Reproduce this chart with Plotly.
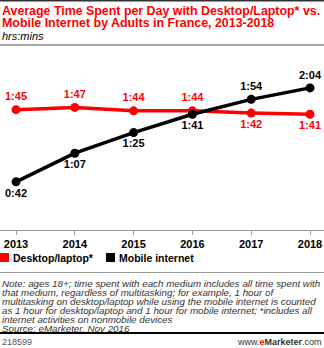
import plotly.graph_objects as go

years = [2013, 2014, 2015, 2016, 2017, 2018]
desktop_min = [105, 107, 104, 104, 102, 101]
mobile_min = [42, 67, 85, 101, 114, 124]
desktop_labels = ["1:45", "1:47", "1:44", "1:44", "1:42", "1:41"]
mobile_labels = ["0:42", "1:07", "1:25", "1:41", "1:54", "2:04"]
desktop_pos = ["top center"] * 4 + ["bottom center"] * 2
mobile_pos = ["bottom center"] * 4 + ["top center"] * 2

title_lines = ["Average Time Spent per Day with Desktop/Laptop* vs.",
               "Mobile Internet by Adults in France, 2013-2018"]
note_lines = ["Note: ages 18+; time spent with each medium includes all time spent with",
              "that medium, regardless of multitasking; for example, 1 hour of",
              "multitasking on desktop/laptop while using the mobile internet is counted",
              "as 1 hour for desktop/laptop and 1 hour for mobile internet; *includes all",
              "internet activities on nonmobile devices",
              "Source: eMarketer, Nov 2016"]

W, H = 324, 348
RED = "#ff0000"
FONT = "Liberation Sans, Arial"

def py(px):
    return 1 - px / H

fig = go.Figure()
fig.add_trace(go.Scatter(
    x=years, y=desktop_min, mode="lines+markers+text",
    line=dict(color=RED, width=3.5), marker=dict(color=RED, size=9),
    text=desktop_labels, textposition=desktop_pos,
    textfont=dict(color=RED, size=11, family=FONT, weight="bold"),
    cliponaxis=False, showlegend=False, hoverinfo="skip"))
fig.add_trace(go.Scatter(
    x=years, y=mobile_min, mode="lines+markers+text",
    line=dict(color="#000000", width=3.5), marker=dict(color="#000000", size=9),
    text=mobile_labels, textposition=mobile_pos,
    textfont=dict(color="#000000", size=11, family=FONT, weight="bold"),
    cliponaxis=False, showlegend=False, hoverinfo="skip"))

x0 = 2013 - 16 / 58.8
x1 = 2018 + 14 / 58.8
fig.update_xaxes(range=[x0, x1], domain=[0, 1], tickvals=years,
                 ticktext=[str(y) for y in years], showgrid=False, zeroline=False,
                 showline=True, linecolor="#999999", linewidth=1,
                 ticks="outside", ticklen=4, tickcolor="#999999",
                 tickfont=dict(family=FONT, size=11, color="#000", weight="bold"))
fig.update_yaxes(range=[0, 175 / 1.146], domain=[py(230), py(55)], visible=False)

ann = []
for i, t in enumerate(title_lines):
    ann.append(dict(x=0, y=py(11 + 12.5 * i), xref="paper", yref="paper",
                    xanchor="left", yanchor="middle", text="<b>" + t + "</b>",
                    showarrow=False, font=dict(family=FONT, size=12.4, color=RED)))
ann.append(dict(x=0, y=py(36), xref="paper", yref="paper", xanchor="left", yanchor="middle",
                text="<i>hrs:mins</i>", showarrow=False,
                font=dict(family=FONT, size=11, color="#000")))
ann.append(dict(x=11 / W, y=py(258), xref="paper", yref="paper", xanchor="left", yanchor="middle",
                text="<b>Desktop/laptop*</b>", showarrow=False,
                font=dict(family=FONT, size=10.5, color="#000")))
ann.append(dict(x=117 / W, y=py(258), xref="paper", yref="paper", xanchor="left", yanchor="middle",
                text="<b>Mobile internet</b>", showarrow=False,
                font=dict(family=FONT, size=10.5, color="#000")))
for i, t in enumerate(note_lines):
    ann.append(dict(x=0, y=py(283 + 9.1 * i), xref="paper", yref="paper",
                    xanchor="left", yanchor="middle", text="<i>" + t + "</i>",
                    showarrow=False, font=dict(family=FONT, size=9.8, color="#333")))
ann.append(dict(x=0, y=py(342), xref="paper", yref="paper", xanchor="left", yanchor="middle",
                text="218599", showarrow=False,
                font=dict(family=FONT, size=9, color="#555")))
ann.append(dict(x=1, y=py(342), xref="paper", yref="paper", xanchor="right", yanchor="middle",
                text="www.<b><span style='color:#ff0000'>e</span>Marketer</b>.com", showarrow=False,
                font=dict(family=FONT, size=9, color="#333")))

shapes = [
    dict(type="line", xref="paper", yref="paper", x0=0, x1=1, y0=py(0.5), y1=py(0.5),
         line=dict(color="#333", width=2)),
    dict(type="line", xref="paper", yref="paper", x0=0, x1=1, y0=py(45), y1=py(45),
         line=dict(color="#888", width=1.5)),
    dict(type="rect", xref="paper", yref="paper", x0=0, x1=9 / W, y0=py(262), y1=py(253),
         fillcolor=RED, line=dict(width=0)),
    dict(type="rect", xref="paper", yref="paper", x0=106 / W, x1=115 / W, y0=py(262), y1=py(253),
         fillcolor="#000", line=dict(width=0)),
    dict(type="line", xref="paper", yref="paper", x0=0, x1=1, y0=py(272.5), y1=py(272.5),
         line=dict(color="#999", width=1)),
    dict(type="line", xref="paper", yref="paper", x0=0, x1=1, y0=py(333), y1=py(333),
         line=dict(color="#000", width=2)),
]

fig.update_layout(width=W, height=H, margin=dict(l=0, r=0, t=0, b=0),
                  paper_bgcolor="white", plot_bgcolor="white",
                  annotations=ann, shapes=shapes)
fig.write_html("out.html", config={"displayModeBar": False})
